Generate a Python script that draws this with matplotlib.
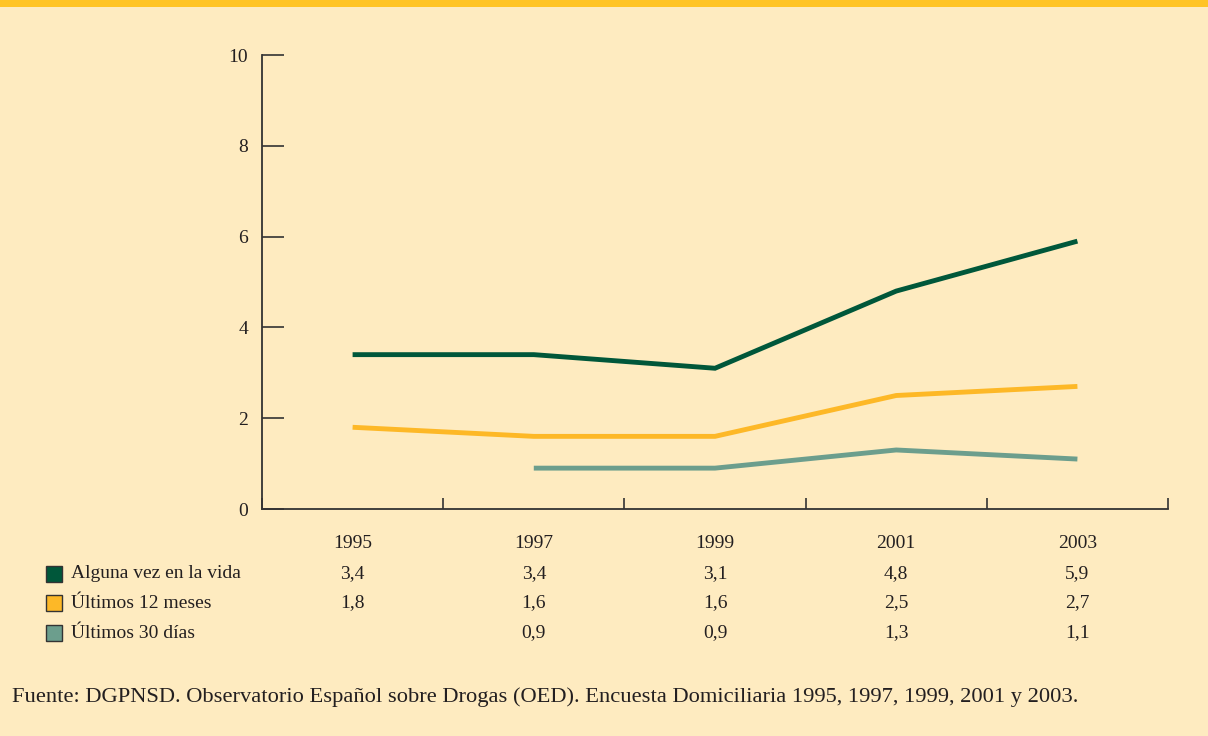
import matplotlib
matplotlib.use("Agg")
import matplotlib.pyplot as plt
from matplotlib.patches import Rectangle
from matplotlib.transforms import blended_transform_factory
import numpy as np

years = ["1995", "1997", "1999", "2001", "2003"]
series_names = ["Alguna vez en la vida", "Últimos 12 meses", "Últimos 30 días"]
alguna = [3.4, 3.4, 3.1, 4.8, 5.9]
ultimos12 = [1.8, 1.6, 1.6, 2.5, 2.7]
ultimos30 = [None, 0.9, 0.9, 1.3, 1.1]
colors = ["#00573A", "#FDB827", "#6C9E8D"]
yticks = [0, 2, 4, 6, 8, 10]
footer = "Fuente: DGPNSD. Observatorio Español sobre Drogas (OED). Encuesta Domiciliaria 1995, 1997, 1999, 2001 y 2003."

plt.rcParams['font.family'] = ['Liberation Serif', 'DejaVu Serif']
bg = "#FEEBC0"
txt = "#231F20"
fig = plt.figure(figsize=(12.08, 7.36), dpi=100, facecolor=bg)
fig.patches.append(Rectangle((0, 1 - 7/736), 1, 7/736, transform=fig.transFigure,
                             facecolor="#FFC425", edgecolor="none"))

ax = fig.add_axes([262/1208, 1 - 509/736, (1168-262)/1208, (509-55)/736])
ax.set_facecolor(bg)
x = np.arange(len(years))
all_series = [alguna, ultimos12, ultimos30]
for vals, c in zip(all_series, colors):
    v = np.array([np.nan if a is None else a for a in vals], dtype=float)
    ax.plot(x, v, color=c, lw=3.5, solid_capstyle='butt', solid_joinstyle='miter')

ax.set_xlim(-0.5, len(years) - 0.5)
ax.set_ylim(0, 10)
ax.spines['top'].set_visible(False)
ax.spines['right'].set_visible(False)
for s in ['left', 'bottom']:
    ax.spines[s].set_color('#333333')
    ax.spines[s].set_linewidth(1.3)
ax.set_yticks(yticks)
ax.set_yticklabels([str(t) for t in yticks], fontsize=14, color=txt)
ax.tick_params(axis='y', direction='in', length=16, width=1.2, color='#333333', pad=10)
ax.set_xticks(np.arange(len(years) + 1) - 0.5)
ax.set_xticklabels([])
ax.tick_params(axis='x', direction='in', length=8, width=1.2, color='#333333')

tr = blended_transform_factory(ax.transData, fig.transFigure)
fs = 14
for i, yr in enumerate(years):
    fig.text(i, 1 - 544/736, yr, transform=tr, ha='center', va='center', fontsize=fs, color=txt)
row_y = [574, 603, 633]
for r, (name, vals, c) in enumerate(zip(series_names, all_series, colors)):
    yy = 1 - row_y[r]/736
    fig.patches.append(Rectangle((46/1208, yy - 8/736), 16/1208, 16/736, transform=fig.transFigure,
                                 facecolor=c, edgecolor='#333333', lw=1.0))
    fig.text(71/1208, yy, name, ha='left', va='center', fontsize=fs, color=txt)
    for i, v in enumerate(vals):
        if v is not None:
            fig.text(i, yy, f"{v:.1f}".replace('.', ','), transform=tr, ha='center', va='center',
                     fontsize=fs, color=txt)

fig.text(12/1208, 1 - 697/736, footer, ha='left', va='center', fontsize=16.2, color=txt)

fig.savefig("out.png", dpi=100, facecolor=bg)
